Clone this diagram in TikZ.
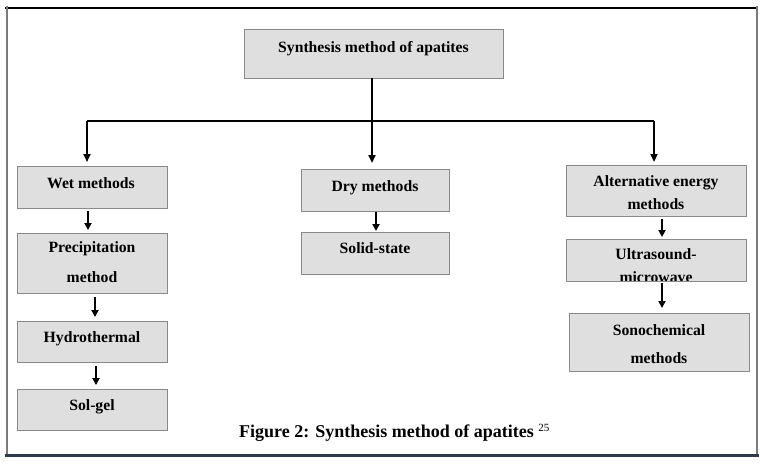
\documentclass[tikz,border=0pt]{standalone}
\usepackage{fontspec}
\setmainfont{Liberation Serif}
\usetikzlibrary{arrows.meta}
\definecolor{boxfill}{HTML}{DFDFDF}
\definecolor{boxdraw}{HTML}{8A8A8A}
\definecolor{framegray}{HTML}{7A7A7A}
\definecolor{navy}{HTML}{2E3A4E}
\tikzset{
  box/.style={draw=boxdraw,fill=boxfill,line width=1pt,inner sep=0pt,outer sep=0pt,anchor=north west},
  lbl/.style={font=\fontsize{15.7}{18}\selectfont\bfseries,inner sep=0pt,anchor=base},
  conn/.style={line width=2pt,-{Triangle[length=8pt,width=7pt]}},
  sarr/.style={line width=2.4pt,-{Triangle[length=7pt,width=7pt]}},
}
\begin{document}
\begin{tikzpicture}[x=1pt,y=-1pt]
\useasboundingbox (0,0) rectangle (765,467);
% frame
\draw[line width=1.5pt,black] (5,8) -- (757,8);
\draw[line width=2pt,framegray] (7,6) -- (7,455);
\draw[line width=2pt,framegray] (757,6) -- (757,455);
\draw[line width=3pt,navy] (5,455) -- (759,455);
% boxes
\node[box,minimum width=259pt,minimum height=49pt] (top) at (244,29) {};
\node[box,minimum width=150pt,minimum height=42pt] (wet) at (17,166) {};
\node[box,minimum width=150pt,minimum height=60pt] (prec) at (17,233) {};
\node[box,minimum width=150pt,minimum height=41pt] (hydro) at (17,321) {};
\node[box,minimum width=150pt,minimum height=41pt] (sol) at (17,389) {};
\node[box,minimum width=148pt,minimum height=42pt] (dry) at (301,169) {};
\node[box,minimum width=148pt,minimum height=42pt] (solid) at (301,232) {};
\node[box,minimum width=180pt,minimum height=51pt] (alt) at (566,165) {};
\node[box,minimum width=180pt,minimum height=42pt] (ultra) at (566,239) {};
\node[box,minimum width=180pt,minimum height=58pt] (sono) at (569,313) {};
% texts
\node[lbl] (ttop) at (373.5,52) {Synthesis method of apatites};
\node[lbl] (twet) at (91,188) {Wet methods};
\node[lbl] (tprec1) at (92,252) {Precipitation};
\node[lbl] (tprec2) at (92,282) {method};
\node[lbl] (thydro) at (92,342) {Hydrothermal};
\node[lbl] (tsol) at (92,410) {Sol-gel};
\node[lbl] (tdry) at (375,191) {Dry methods};
\node[lbl] (tsolid) at (375,253) {Solid-state};
\node[lbl] (talt1) at (656,186) {Alternative energy};
\node[lbl] (talt2) at (656,209) {methods};
\begin{scope}
\clip (ultra.north west) rectangle (ultra.south east);
\node[lbl] (tultra1) at (656,259) {Ultrasound-};
\node[lbl] (tultra2) at (656,282.5) {microwave};
\end{scope}
\draw[boxdraw,line width=1pt] (ultra.north west) rectangle (ultra.south east);
\node[lbl] (tsono1) at (659,335) {Sonochemical};
\node[lbl] (tsono2) at (659,363) {methods};
% caption
\node[inner sep=0pt,anchor=base west,font=\fontsize{18}{20}\selectfont\bfseries] (cap) at (239,437) {Figure 2: Synthesis method of apatites};
\node[inner sep=0pt,anchor=base west,font=\fontsize{11}{12}\selectfont] (capref) at ([xshift=4pt,yshift=6pt]cap.base east) {25};
% connectors
\coordinate (hl) at (87,121);
\coordinate (hr) at (654,121);
\coordinate (hm) at (372,121);
\draw[line width=2pt] (hm) -- (top.south -| hm);
\draw[line width=2pt] (hl) -- (hr);
\draw[conn,shorten >=4pt] (hl) -- (hl |- wet.north);
\draw[conn,shorten >=3pt] (hr) -- (hr |- alt.north);
\draw[conn,shorten >=6pt] (hm) -- (hm |- dry.north);
\draw[sarr,shorten <=3pt,shorten >=3pt] ([xshift=-4pt]wet.south) -- ([xshift=-4pt]wet.south |- prec.north);
\draw[sarr,shorten <=4pt,shorten >=4pt] ([xshift=3pt]prec.south) -- ([xshift=3pt]prec.south |- hydro.north);
\draw[sarr,shorten <=4pt,shorten >=4pt] ([xshift=4pt]hydro.south) -- ([xshift=4pt]hydro.south |- sol.north);
\draw[sarr,shorten <=1pt,shorten >=1pt] ([xshift=1pt]dry.south) -- ([xshift=1pt]dry.south |- solid.north);
\draw[sarr,shorten <=3pt,shorten >=2pt] ([xshift=6pt]alt.south) -- ([xshift=6pt]alt.south |- ultra.north);
\draw[sarr,shorten <=2pt,shorten >=5pt] ([xshift=6pt]ultra.south) -- ([xshift=6pt]ultra.south |- sono.north);
\end{tikzpicture}
\end{document}
